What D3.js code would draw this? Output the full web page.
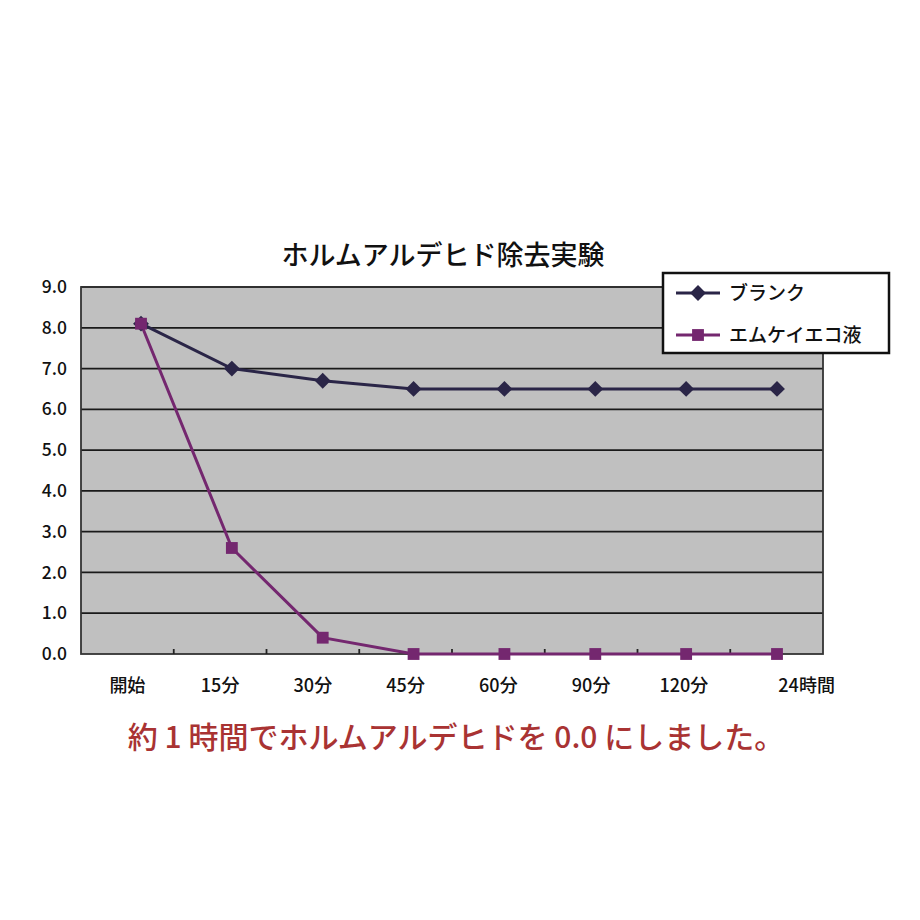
<!DOCTYPE html>
<html><head><meta charset="utf-8">
<script src="https://cdn.jsdelivr.net/npm/d3@7/dist/d3.min.js"></script>
<style>
body{margin:0;background:#fff;}
text{font-family:"Noto Sans CJK JP","Noto Sans",sans-serif;}
</style></head>
<body>
<svg id="c" width="920" height="920"></svg>
<script>
const categories = ["開始","15分","30分","45分","60分","90分","120分","24時間"];
const blankValues = [8.1, 7.0, 6.7, 6.5, 6.5, 6.5, 6.5, 6.5];
const mkValues = [8.1, 2.6, 0.4, 0.0, 0.0, 0.0, 0.0, 0.0];
const yTicks = [0,1,2,3,4,5,6,7,8,9];
const seriesNames = ["ブランク","エムケイエコ液"];
const titleText = "ホルムアルデヒド除去実験";
const noteText = "約 1 時間でホルムアルデヒドを 0.0 にしました。";

const svg = d3.select("#c");
const L = 81, R = 823, T = 287, B = 654;
const blankColor = "#2a2547", mkColor = "#74276f";

const xBand = d3.scaleBand().domain(categories).range([L, R]);
const xPt = d3.scalePoint().domain(categories).range([L + 60, R - 46]);
const y = d3.scaleLinear().domain([0, 9]).range([B, T]);

svg.append("rect").attr("x", L).attr("y", T).attr("width", R - L).attr("height", B - T)
  .attr("fill", "#c0c0c0");

// gridlines
svg.append("g").selectAll("line").data(yTicks.slice(1)).join("line")
  .attr("x1", L).attr("x2", R).attr("y1", d => y(d)).attr("y2", d => y(d))
  .attr("stroke", "#1a1a1a").attr("stroke-width", 1.8);

// border
svg.append("rect").attr("x", L).attr("y", T).attr("width", R - L).attr("height", B - T)
  .attr("fill", "none").attr("stroke", "#333").attr("stroke-width", 1.8);

// y axis labels
svg.append("g").selectAll("text").data(yTicks).join("text")
  .attr("x", 67).attr("y", d => y(d)).attr("dy", "0.35em").attr("text-anchor", "end")
  .attr("font-size", 17.5).attr("font-weight", 500).attr("fill", "#111").text(d => d.toFixed(1));

// x ticks
svg.append("g").selectAll("line").data(categories.slice(1)).join("line")
  .attr("x1", d => xBand(d)).attr("x2", d => xBand(d)).attr("y1", B).attr("y2", B - 5)
  .attr("stroke", "#222").attr("stroke-width", 1.8);

// x labels
svg.append("g").selectAll("text").data(categories).join("text")
  .attr("x", (d, i) => xBand(d) + xBand.bandwidth() / 2 + (i === categories.length - 1 ? 30 : 0))
  .attr("y", 686).attr("dy", "0.35em").attr("text-anchor", "middle")
  .attr("font-size", 18).attr("font-weight", 500).attr("fill", "#111").text(d => d);

const line = d3.line().x((d, i) => xPt(categories[i])).y(d => y(d));

svg.append("path").datum(mkValues).attr("d", line)
  .attr("fill", "none").attr("stroke", mkColor).attr("stroke-width", 3);
svg.append("path").datum(blankValues).attr("d", line)
  .attr("fill", "none").attr("stroke", blankColor).attr("stroke-width", 3);

const diamond = d3.symbol().type(d3.symbolDiamond2).size(160);
const square = d3.symbol().type(d3.symbolSquare).size(140);

svg.append("g").selectAll("path").data(blankValues).join("path")
  .attr("transform", (d, i) => `translate(${xPt(categories[i])},${y(d)})`)
  .attr("d", diamond).attr("fill", blankColor);
svg.append("g").selectAll("path").data(mkValues).join("path")
  .attr("transform", (d, i) => `translate(${xPt(categories[i])},${y(d)})`)
  .attr("d", square).attr("fill", mkColor);

// title
svg.append("text").attr("x", 443).attr("y", 256).attr("dy", "0.35em").attr("text-anchor", "middle")
  .attr("font-size", 27).attr("font-weight", 500).attr("fill", "#111").text(titleText);

// legend
const lg = svg.append("g");
lg.append("rect").attr("x", 663).attr("y", 273).attr("width", 226).attr("height", 80)
  .attr("fill", "#fff").attr("stroke", "#111").attr("stroke-width", 2.5);
const rows = [{n: seriesNames[0], c: blankColor, s: diamond, y: 293},
              {n: seriesNames[1], c: mkColor, s: square, y: 335}];
rows.forEach(r => {
  lg.append("line").attr("x1", 676).attr("x2", 720).attr("y1", r.y).attr("y2", r.y)
    .attr("stroke", r.c).attr("stroke-width", 3);
  lg.append("path").attr("transform", `translate(698,${r.y})`).attr("d", r.s).attr("fill", r.c);
  lg.append("text").attr("x", 729).attr("y", r.y).attr("dy", "0.35em")
    .attr("font-size", 19).attr("font-weight", 500).attr("fill", "#111").text(r.n);
});

// note
svg.append("text").attr("x", 456).attr("y", 737).attr("dy", "0.35em").attr("text-anchor", "middle")
  .attr("font-size", 30).attr("font-weight", 500).attr("fill", "#a93333").text(noteText);
</script>
</body></html>
